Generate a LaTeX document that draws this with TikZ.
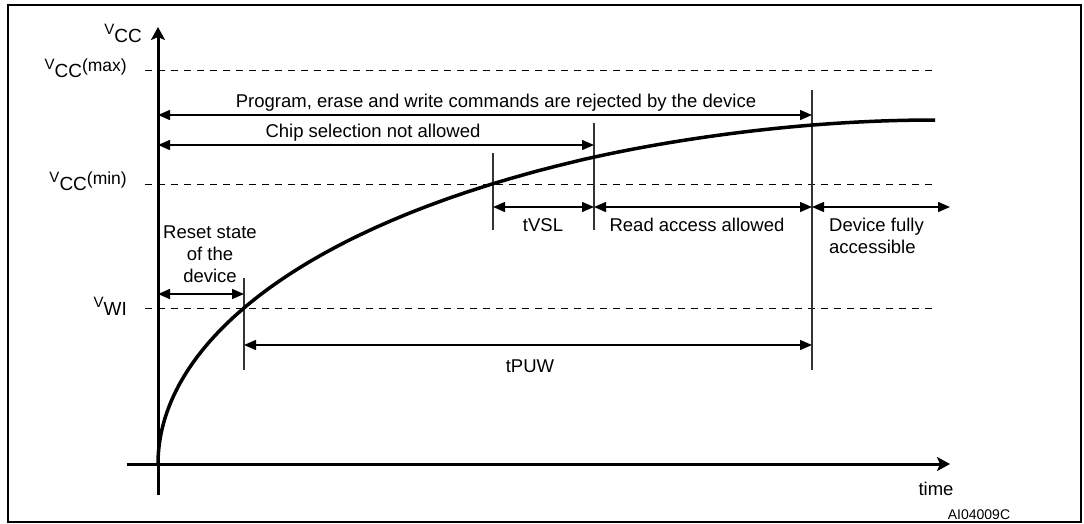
\documentclass[tikz,border=0pt]{standalone}
\usepackage{fontspec}
\setmainfont{Liberation Sans}
\usetikzlibrary{arrows.meta}
\tikzset{
  axis/.style = {line width=3pt, -{Stealth[length=13pt,width=14pt,inset=3pt]}},
  span/.style = {line width=1.4pt, {Triangle[length=12pt,width=10pt]}-{Triangle[length=12pt,width=10pt]}},
  threshold/.style = {line width=1pt, dash pattern=on 7pt off 6pt},
  boundary/.style = {line width=1.1pt, black!80},
  curve/.style = {line width=3.5pt, line join=round},
}
\newcommand{\vlab}[2]{%
  \raisebox{8pt}{\fontsize{15}{15}\selectfont V}%
  {\fontsize{19}{19}\selectfont #1}%
  \raisebox{6pt}{\fontsize{17.5}{17.5}\selectfont #2}}

\begin{document}
\begin{tikzpicture}[x=1pt,y=-1pt,every node/.style={inner sep=0pt,font=\fontsize{18.5}{22}\selectfont}]
  \useasboundingbox (0,0) rectangle (1084,523);
  \draw[line width=2pt] (8,5) rectangle (1081,522);

  % voltage levels
  \foreach \lev/\y in {max/70,min/184,wi/308}
    \draw[threshold] (145,\y) coordinate (\lev-l) -- (937,\y) coordinate (\lev-r);

  % axes
  \draw[axis] (127,464) coordinate (x0) -- (950,464) coordinate (x1);
  \draw[axis] (158,495) coordinate (y0) -- (158,27) coordinate (y1);
  \node[anchor=base east] (vcc) at (142,42) {\vlab{CC}{}};
  \node[anchor=base east] (vmax) at (127,77) {\vlab{CC}{(max)}};
  \node[anchor=base east] (vmin) at (127,190) {\vlab{CC}{(min)}};
  \node[anchor=base east] (vwi) at (127,315) {\vlab{WI}{}};
  \node[anchor=base] (time) at (936,495) {time};
  \node[anchor=base, font=\fontsize{14}{14}\selectfont] (ref) at (979,519) {AI04009C};

  % event lines
  \draw[boundary] (244,278) coordinate (wi-t) -- (244,370) coordinate (wi-b);
  \draw[boundary] (493,153) coordinate (vsl-t) -- (493,230) coordinate (vsl-b);
  \draw[boundary] (594,123) coordinate (cs-t) -- (594,230) coordinate (cs-b);
  \draw[boundary] (812,90) coordinate (pu-t) -- (812,370) coordinate (pu-b);

  % supply rising
  \draw[curve] plot[domain=0:20.881, samples=90, variable=\uu]
      ({158+\uu*\uu},{464-17.35*\uu*(1-0.0003524*\uu*\uu)})
    .. controls (674,139.5) and (800,120) .. (935,120);

  % windows
  \draw[span] (158,115) -- (812,115);
  \node[anchor=base] (prog) at (496,107) {Program, erase and write commands are rejected by the device};
  \draw[span] (158,145) -- (594,145);
  \node[anchor=base] (chip) at (373,137) {Chip selection not allowed};
  \draw[span] (493,207) -- (594,207);
  \node[anchor=base] (tvsl) at (543,231) {tVSL};
  \draw[span] (594,207) -- (812,207);
  \node[anchor=base] (read) at (697,231) {Read access allowed};
  \draw[span] (812,207) -- (950,207);
  \node[anchor=base west, align=left] (full) at (829,253) {Device fully\\accessible};
  \draw[span] (158,294) -- (244,294);
  \node[anchor=base, align=center] (reset) at (210,282) {Reset state\\of the\\device};
  \draw[span] (244,345) -- (812,345);
  \node[anchor=base] (tpuw) at (530,372) {tPUW};
\end{tikzpicture}
\end{document}
